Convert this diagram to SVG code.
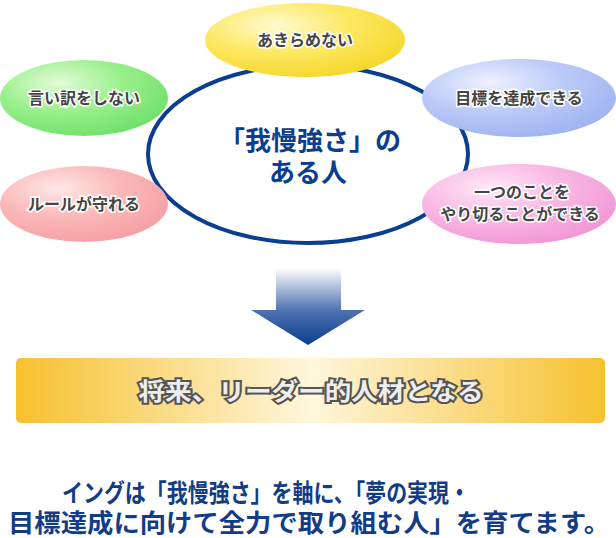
<svg xmlns="http://www.w3.org/2000/svg" width="616" height="538" viewBox="0 0 616 538">
<defs>
<radialGradient id="gy" cx="0.35" cy="0.3" r="0.75"><stop offset="0" stop-color="#fffbd0"/><stop offset="0.5" stop-color="#fde862"/><stop offset="1" stop-color="#f5d72a"/></radialGradient>
<radialGradient id="gg" cx="0.35" cy="0.3" r="0.75"><stop offset="0" stop-color="#e2fbd8"/><stop offset="0.5" stop-color="#9af08c"/><stop offset="1" stop-color="#6fe06a"/></radialGradient>
<radialGradient id="gb" cx="0.35" cy="0.3" r="0.75"><stop offset="0" stop-color="#eef1ff"/><stop offset="0.5" stop-color="#bccaf8"/><stop offset="1" stop-color="#9fb3f0"/></radialGradient>
<radialGradient id="gp" cx="0.35" cy="0.3" r="0.75"><stop offset="0" stop-color="#ffe8e8"/><stop offset="0.5" stop-color="#fbb8b8"/><stop offset="1" stop-color="#f5a0a4"/></radialGradient>
<radialGradient id="gm" cx="0.35" cy="0.3" r="0.75"><stop offset="0" stop-color="#ffe8f8"/><stop offset="0.5" stop-color="#f9b8e4"/><stop offset="1" stop-color="#f296d6"/></radialGradient>
<linearGradient id="ga" x1="0" y1="0" x2="0" y2="1"><stop offset="0" stop-color="#ffffff"/><stop offset="0.55" stop-color="#4f72b0"/><stop offset="1" stop-color="#0b3e8e"/></linearGradient>
<linearGradient id="go" x1="0" y1="0" x2="1" y2="0"><stop offset="0" stop-color="#f6c12e"/><stop offset="0.5" stop-color="#fff6dc"/><stop offset="1" stop-color="#f6c12e"/></linearGradient>
</defs>
<style>
.t{font-family:"Noto Sans CJK JP",sans-serif;font-weight:bold;text-anchor:middle;}
.n{font-size:16px;fill:#444;stroke:#fff;stroke-width:3;paint-order:stroke;}
.c{font-size:26px;fill:#0b3e8e;stroke:#fff;stroke-width:4;paint-order:stroke;}
.b{font-size:25px;fill:#123d86;}
</style>
<g id="connectors">
<ellipse cx="308" cy="154" rx="160" ry="89" fill="none" stroke="#0b3e8e" stroke-width="4"/>
<path id="arrow" d="M276 268 H341 V310 H365 L308 345 L251 310 H276 Z" fill="url(#ga)"/>
</g>
<g id="center"><text class="t c" x="310" y="150">「我慢強さ」の</text><text class="t c" x="308" y="182">ある人</text></g>
<g id="n1"><ellipse cx="305" cy="40" rx="100" ry="37" fill="url(#gy)"/><text class="t n" x="305" y="46">あきらめない</text></g>
<g id="n2"><ellipse cx="84" cy="98" rx="84" ry="38" fill="url(#gg)"/><text class="t n" x="84" y="104">言い訳をしない</text></g>
<g id="n3"><ellipse cx="519" cy="98" rx="97" ry="39" fill="url(#gb)"/><text class="t n" x="519" y="104">目標を達成できる</text></g>
<g id="n4"><ellipse cx="84" cy="204" rx="84" ry="38" fill="url(#gp)"/><text class="t n" x="84" y="210">ルールが守れる</text></g>
<g id="n5"><ellipse cx="519" cy="204" rx="97" ry="40" fill="url(#gm)"/><text class="t n" x="522" y="198">一つのことを</text><text class="t n" x="520" y="220">やり切ることができる</text></g>
<g id="result"><rect x="16" y="358" width="589" height="65" rx="5" fill="url(#go)"/><text class="t" x="311" y="400" textLength="345" lengthAdjust="spacingAndGlyphs" style="font-size:24px;fill:#eee;stroke:#555;stroke-width:4;paint-order:stroke">将来、リーダー的人材となる</text></g>
<g id="footer"><text class="t b" x="266" y="502" textLength="408" lengthAdjust="spacingAndGlyphs">イングは「我慢強さ」を軸に、「夢の実現・</text><text class="t b" x="309" y="532" textLength="602" lengthAdjust="spacingAndGlyphs">目標達成に向けて全力で取り組む人」を育てます。</text></g>
</svg>
